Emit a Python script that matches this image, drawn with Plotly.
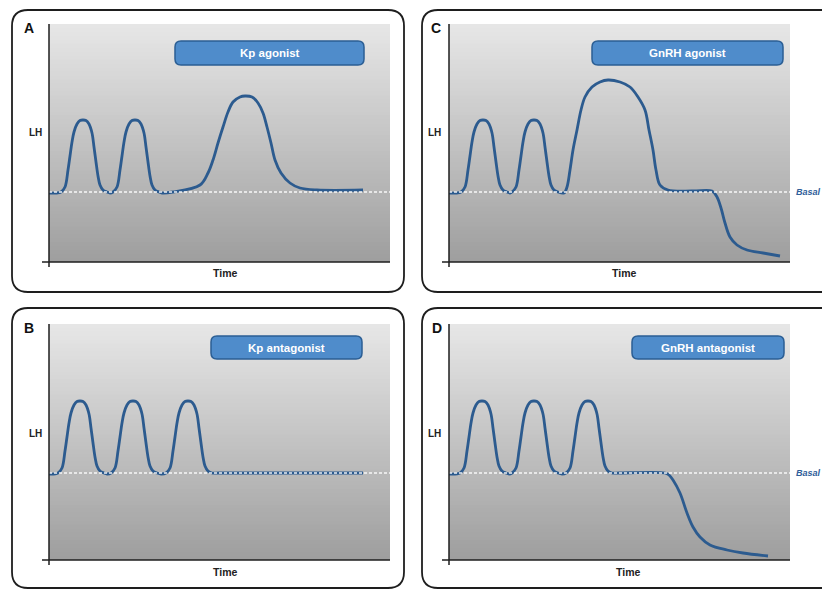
import plotly.graph_objects as go

W, H = 822, 590

# ---------------- data (time units, LH units) ----------------
panel_letters = ["A", "C", "B", "D"]
panel_titles = ["Kp agonist", "GnRH agonist", "Kp antagonist", "GnRH antagonist"]
axis_label_y = "LH"
axis_label_x = "Time"
basal_label = "Basal"

baseline_A = 70
baseline_C = 70
baseline_B = 87
baseline_D = 87

time_A = [0, 8, 12, 16, 19, 21, 23, 25, 28, 31, 34, 37, 40, 43, 45, 47, 49, 51, 54, 58, 61,
          64, 68, 71, 73, 75, 77, 80, 83, 86, 89, 92, 95, 97, 99, 101, 103, 106, 110, 113,
          124, 151, 159, 164, 169, 174, 179, 184, 191, 196, 203, 209, 214, 218, 222, 226, 232,
          241, 251, 268, 314]
lh_A = [69, 69, 70, 75, 92, 106, 120, 130, 138, 141.5, 142, 141.5, 138, 129, 115, 100, 86, 77,
        72, 70, 69,
        70, 75, 92, 106, 120, 130, 138, 141.5, 142, 141.5, 138, 129, 115, 100, 86, 77, 72, 70, 69,
        70, 77, 89, 102, 119, 135, 150, 160, 165, 166, 165, 159, 149, 135, 119, 102, 89, 79, 74,
        72, 72]

time_C = [0, 8, 12, 16, 19, 21, 23, 25, 28, 31, 34, 37, 40, 43, 45, 47, 49, 51, 54, 58, 61,
          63, 67, 70, 72, 74, 76, 79, 82, 85, 88, 91, 94, 96, 98, 100, 102, 105, 109, 115,
          118, 121, 124, 128, 132, 136, 143, 151, 159, 171, 181, 189, 196, 200, 204, 207, 211,
          219, 244, 263,
          268, 272, 276, 281, 288, 298, 314, 331]
lh_C = [69, 69, 70, 75, 92, 106, 120, 130, 138, 141.5, 142, 141.5, 138, 129, 115, 100, 86, 77,
        72, 70, 69,
        70, 75, 92, 106, 120, 130, 138, 141.5, 142, 141.5, 138, 129, 115, 100, 86, 77, 72, 70, 69,
        75, 92, 112, 132, 152, 165, 175, 180, 182, 180, 175, 165, 152, 132, 112, 92, 77, 72, 71, 71,
        65, 54, 39, 25, 17, 12, 9, 6]

time_B = [0, 9, 13, 16, 18, 20, 22, 25, 28, 31, 34, 37, 40, 42, 44, 46, 48, 51, 55, 58,
          62, 66, 69, 71, 73, 75, 78, 81, 84, 87, 90, 93, 95, 97, 99, 101, 104, 108, 112,
          117, 121, 124, 126, 128, 130, 133, 136, 139, 142, 145, 148, 150, 152, 154, 156, 159,
          163, 170, 314]
lh_B = [86, 87, 92, 109, 123, 137, 147, 155, 158.5, 159, 158.5, 155, 146, 132, 117, 103, 94, 89,
        87, 86,
        87, 92, 109, 123, 137, 147, 155, 158.5, 159, 158.5, 155, 146, 132, 117, 103, 94, 89, 87, 86,
        87, 92, 109, 123, 137, 147, 155, 158.5, 159, 158.5, 155, 146, 132, 117, 103, 94, 89, 87,
        87, 87]

time_D = [0, 11, 15, 18, 20, 22, 24, 27, 30, 33, 36, 39, 42, 44, 46, 48, 50, 53, 57, 60,
          63, 67, 70, 72, 74, 76, 79, 82, 85, 88, 91, 94, 96, 98, 100, 102, 105, 109, 113,
          117, 121, 124, 126, 128, 130, 133, 136, 139, 142, 145, 148, 150, 152, 154, 156, 159,
          163, 170, 216,
          220, 224, 231, 238, 244, 251, 261, 278, 294, 319]
lh_D = [86, 87, 92, 109, 123, 137, 147, 155, 158.5, 159, 158.5, 155, 146, 132, 117, 103, 94, 89,
        87, 86,
        87, 92, 109, 123, 137, 147, 155, 158.5, 159, 158.5, 155, 146, 132, 117, 103, 94, 89, 87, 86,
        87, 92, 109, 123, 137, 147, 155, 158.5, 159, 158.5, 155, 146, 132, 117, 103, 94, 89, 87,
        87, 87,
        85, 80, 67, 47, 33, 23, 15, 10, 7, 4]

# ---------------- layout helpers (window pixel coords -> paper) ----------------
def X(px):
    return px / W

def Y(py):
    return 1 - py / H

CURVE = "#2c5b8f"
BOX_FILL = "#4f8ccb"
BOX_LINE = "#2b5e94"
FONT = "Liberation Sans, Arial, sans-serif"

# plot areas in pixels: (left, right, top, bottom)
areas = [(49, 390, 24, 262), (449, 790, 24, 262), (49, 390, 324, 560), (449, 790, 324, 560)]
yranges = [238, 238, 236, 236]
curves = [(time_A, lh_A, baseline_A), (time_C, lh_C, baseline_C),
          (time_B, lh_B, baseline_B), (time_D, lh_D, baseline_D)]
frames = [(12, 404, 10, 292), (422, 845, 10, 292), (12, 404, 308, 588), (422, 845, 308, 588)]
boxes = [(175, 364, 41, 65), (592, 783, 41, 65), (211, 362, 336, 359), (632, 784, 336, 359)]
letter_pos = [(29.5, 28), (436, 28), (29.5, 328), (437, 328)]
lh_pos = [(35, 132), (435, 132), (35, 433), (435, 433)]
time_pos = [(225, 273), (624, 273), (225, 572), (628, 572)]
basal_panels = [1, 3]

fig = go.Figure()
shapes = []
annotations = []


def rounded_path(x0, x1, y0, y1, r):
    pts = [f"M {X(x0 + r)},{Y(y0)}",
           f"L {X(x1 - r)},{Y(y0)}",
           f"Q {X(x1)},{Y(y0)} {X(x1)},{Y(y0 + r)}",
           f"L {X(x1)},{Y(y1 - r)}",
           f"Q {X(x1)},{Y(y1)} {X(x1 - r)},{Y(y1)}",
           f"L {X(x0 + r)},{Y(y1)}",
           f"Q {X(x0)},{Y(y1)} {X(x0)},{Y(y1 - r)}",
           f"L {X(x0)},{Y(y0 + r)}",
           f"Q {X(x0)},{Y(y0)} {X(x0 + r)},{Y(y0)}",
           "Z"]
    return " ".join(pts)


def lerp_color(c0, c1, t):
    return "rgb({},{},{})".format(*[round(a + (b - a) * t) for a, b in zip(c0, c1)])


TOP = (231, 231, 231)
BOT = (158, 158, 158)
NSTRIP = 60

for i in range(4):
    sfx = "" if i == 0 else str(i + 1)
    xa, ya = "x" + sfx, "y" + sfx
    l, r, t, b = areas[i]
    fig.update_layout(**{
        "xaxis" + sfx: dict(domain=[X(l), X(r)], range=[0, r - l], visible=False,
                            fixedrange=True, anchor=ya),
        "yaxis" + sfx: dict(domain=[Y(b), Y(t)], range=[0, yranges[i]], visible=False,
                            fixedrange=True, anchor=xa),
    })
    fx0, fx1, fy0, fy1 = frames[i]
    shapes.append(dict(type="path", xref="paper", yref="paper",
                       path=rounded_path(fx0, fx1, fy0, fy1, 16),
                       line=dict(color="#1e1e1e", width=1.8), fillcolor="white", layer="below"))
    for k in range(NSTRIP):
        shapes.append(dict(type="rect", xref=xa + " domain", yref=ya + " domain",
                           x0=0, x1=1, y0=max(0, 1 - (k + 1) / NSTRIP - 0.004),
                           y1=1 - k / NSTRIP,
                           fillcolor=lerp_color(TOP, BOT, (k + 0.5) / NSTRIP),
                           line=dict(width=0), layer="below"))
    shapes.append(dict(type="line", xref=xa + " domain", yref=ya + " domain",
                       x0=0, x1=0, y0=-5 / (b - t), y1=1,
                       line=dict(color="#1e1e1e", width=1.5)))
    shapes.append(dict(type="line", xref=xa + " domain", yref=ya + " domain",
                       x0=-7 / (r - l), x1=1, y0=0, y1=0,
                       line=dict(color="#1e1e1e", width=1.5)))
    bx0, bx1, by0, by1 = boxes[i]
    shapes.append(dict(type="path", xref="paper", yref="paper",
                       path=rounded_path(bx0, bx1, by0, by1, 6),
                       line=dict(color=BOX_LINE, width=1.5), fillcolor=BOX_FILL))
    annotations.append(dict(xref="paper", yref="paper", x=X((bx0 + bx1) / 2),
                            y=Y((by0 + by1) / 2),
                            text=f"<b>{panel_titles[i]}</b>", showarrow=False,
                            font=dict(family=FONT, size=11.5, color="white"),
                            xanchor="center", yanchor="middle"))
    lx, ly = letter_pos[i]
    annotations.append(dict(xref="paper", yref="paper", x=X(lx), y=Y(ly),
                            text=f"<b>{panel_letters[i]}</b>", showarrow=False,
                            font=dict(family=FONT, size=14, color="#111"),
                            xanchor="center", yanchor="middle"))
    hx, hy = lh_pos[i]
    annotations.append(dict(xref="paper", yref="paper", x=X(hx), y=Y(hy),
                            text=f"<b>{axis_label_y}</b>", showarrow=False,
                            font=dict(family=FONT, size=10, color="#222"),
                            xanchor="center", yanchor="middle"))
    tx, ty = time_pos[i]
    annotations.append(dict(xref="paper", yref="paper", x=X(tx), y=Y(ty),
                            text=f"<b>{axis_label_x}</b>", showarrow=False,
                            font=dict(family=FONT, size=10.5, color="#222"),
                            xanchor="center", yanchor="middle"))

    tt, vv, base = curves[i]
    fig.add_trace(go.Scatter(x=tt, y=vv, mode="lines", xaxis=xa, yaxis=ya,
                             line=dict(color=CURVE, width=2.8, shape="spline", smoothing=1.0),
                             hoverinfo="skip", showlegend=False))
    fig.add_trace(go.Scatter(x=[0, r - l], y=[base, base], mode="lines", xaxis=xa, yaxis=ya,
                             line=dict(color="rgba(255,255,255,0.9)", width=1.5, dash="3px,2px"),
                             hoverinfo="skip", showlegend=False))
    if i in basal_panels:
        base_py = b - base * (b - t) / yranges[i]
        annotations.append(dict(xref="paper", yref="paper", x=X(r + 4), y=Y(base_py),
                                text=f"<b><i>{basal_label}</i></b>", showarrow=False,
                                font=dict(family=FONT, size=9, color="#2f609a"),
                                xanchor="left", yanchor="middle"))

fig.update_layout(width=W, height=H, margin=dict(l=0, r=0, t=0, b=0),
                  paper_bgcolor="white", plot_bgcolor="rgba(0,0,0,0)",
                  shapes=shapes, annotations=annotations, showlegend=False)

fig.write_html("out.html", config={"displayModeBar": False},
               post_script="document.body.style.margin='0';document.body.style.overflow='hidden';")
